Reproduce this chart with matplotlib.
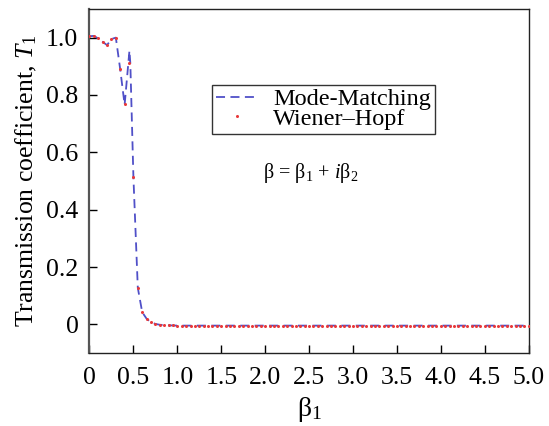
import numpy as np
import matplotlib
matplotlib.use("Agg")
import matplotlib.pyplot as plt

plt.rcParams['font.family'] = ['Liberation Serif', 'DejaVu Serif']
plt.rcParams['mathtext.fontset'] = 'custom'
plt.rcParams['mathtext.rm'] = 'Liberation Serif'
plt.rcParams['mathtext.it'] = 'Liberation Serif:italic'

# Mode-matching solution (dashed curve)
mm_beta1 = [0.0, 0.05, 0.10, 0.15, 0.20, 0.25, 0.30, 0.35, 0.40, 0.455, 0.465,
            0.50, 0.55, 0.60, 0.65, 0.70, 0.75, 0.80, 0.90, 1.0, 2.0, 3.0, 4.0, 5.0]
mm_T1 = [1.005, 1.006, 0.997, 0.985, 0.974, 0.995, 1.000, 0.889, 0.766, 0.955, 0.910,
         0.514, 0.128, 0.043, 0.020, 0.008, 0.002, -0.001, -0.003, -0.004, -0.004,
         -0.004, -0.004, -0.004]

# Wiener-Hopf solution (dots), sampled every 0.05 in beta_1
wh_beta1 = np.round(np.arange(0.0, 5.0001, 0.05), 2)
wh_T1 = [1.005, 1.006, 0.997, 0.985, 0.974, 0.995, 1.000, 0.889, 0.768, 0.910,
         0.514, 0.128, 0.043, 0.020, 0.008, 0.002, -0.001, -0.002, -0.003, -0.003,
         -0.004, -0.004, -0.004, -0.004, -0.004, -0.004, -0.004, -0.004, -0.004, -0.004,
         -0.004, -0.004, -0.004, -0.004, -0.004, -0.004, -0.004, -0.004, -0.004, -0.004,
         -0.004, -0.004, -0.004, -0.004, -0.004, -0.004, -0.004, -0.004, -0.004, -0.004,
         -0.004, -0.004, -0.004, -0.004, -0.004, -0.004, -0.004, -0.004, -0.004, -0.004,
         -0.004, -0.004, -0.004, -0.004, -0.004, -0.004, -0.004, -0.004, -0.004, -0.004,
         -0.004, -0.004, -0.004, -0.004, -0.004, -0.004, -0.004, -0.004, -0.004, -0.004,
         -0.004, -0.004, -0.004, -0.004, -0.004, -0.004, -0.004, -0.004, -0.004, -0.004,
         -0.004, -0.004, -0.004, -0.004, -0.004, -0.004, -0.004, -0.004, -0.004, -0.004,
         -0.004]

x_ticks = [0, 0.5, 1.0, 1.5, 2.0, 2.5, 3.0, 3.5, 4.0, 4.5, 5.0]
x_ticklabels = ['0', '0.5', '1.0', '1.5', '2.0', '2.5', '3.0', '3.5', '4.0', '4.5', '5.0']
y_ticks = [0, 0.2, 0.4, 0.6, 0.8, 1.0]
y_ticklabels = ['0', '0.2', '0.4', '0.6', '0.8', '1.0']

fig = plt.figure(figsize=(5.49, 4.26), dpi=100)
ax = fig.add_axes([0.163, 0.171, 0.800, 0.808])

ax.plot(mm_beta1, mm_T1, linestyle=(0, (5.0, 3.0)), color='#5050c8', linewidth=1.3,
        label='Mode-Matching', zorder=2)
ax.plot(wh_beta1, wh_T1, linestyle='none', marker='o', markersize=2.2,
        color='#e8393a', markeredgewidth=0, label='Wiener\u2013Hopf', zorder=3)

ax.set_xlim(0, 5.0)
ax.set_ylim(-0.1, 1.1)
ax.set_xticks(x_ticks)
ax.set_xticklabels(x_ticklabels)
ax.set_yticks(y_ticks)
ax.set_yticklabels(y_ticklabels)
ax.tick_params(direction='in', length=6, width=1.0, labelsize=18.5,
               top=False, right=False)
ax.tick_params(axis='x', pad=10)
ax.tick_params(axis='y', pad=8)

for side in ['top', 'right', 'bottom']:
    ax.spines[side].set_linewidth(1.0)
    ax.spines[side].set_color('#222222')
ax.spines['left'].set_linewidth(1.6)
ax.spines['left'].set_color('#555555')

ax.set_xlabel(r'$\mathrm{\beta}_1$', fontsize=20, labelpad=4)
ax.set_ylabel(r'Transmission coefficient, $T_1$', fontsize=18.5, labelpad=5)

leg = ax.legend(loc='upper left', bbox_to_anchor=(0.28, 0.78), fontsize=17.5,
                frameon=True, fancybox=False, edgecolor='black', handlelength=1.75,
                handletextpad=0.6, borderpad=0.15, labelspacing=-0.1, borderaxespad=0)
leg.get_frame().set_linewidth(1.0)

ax.text(1.97, 0.527, 'β = β$_1$ + $i$β$_2$',
        fontsize=14.5, ha='left', va='center')

fig.savefig('out.png', dpi=100)
